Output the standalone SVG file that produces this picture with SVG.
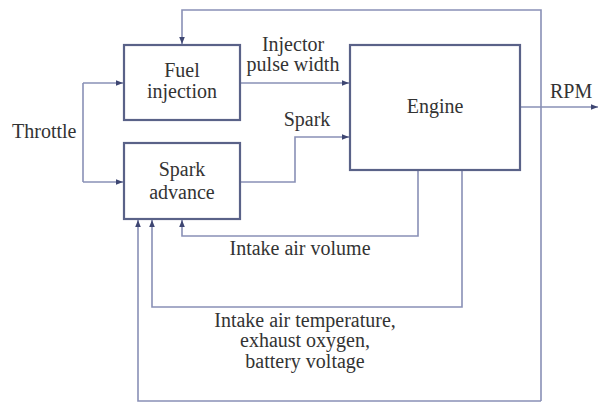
<svg xmlns="http://www.w3.org/2000/svg" width="599" height="403" viewBox="0 0 599 403">
<style>
.box{fill:#fff;stroke:#5a6288;stroke-width:2.2}
.ln{fill:none;stroke:#8990b6;stroke-width:1.6}
.t{font-family:"Liberation Serif","Times New Roman",serif;font-size:20px;fill:#333}
.c{text-anchor:middle}
</style>
<defs>
<marker id="ah" viewBox="0 0 10 10" refX="10" refY="5" markerWidth="4.5" markerHeight="4.5" orient="auto" markerUnits="strokeWidth">
<path d="M0,1 L10,5 L0,9 z" fill="#3e4672"/>
</marker>
</defs>
<rect width="599" height="403" fill="#fff"/>
<g id="connectors">
<path class="ln" d="M541,401 V10 H182 V44" marker-end="url(#ah)"/>
<path class="ln" d="M541,401 H138 V220" marker-end="url(#ah)"/>
<path class="ln" d="M83,83 V182"/>
<path class="ln" d="M83,83 H123" marker-end="url(#ah)"/>
<path class="ln" d="M83,182 H123" marker-end="url(#ah)"/>
<path class="ln" d="M240,83 H349" marker-end="url(#ah)"/>
<path class="ln" d="M240,182 H295 V137 H349" marker-end="url(#ah)"/>
<path class="ln" d="M520,107 H598" marker-end="url(#ah)"/>
<path class="ln" d="M418,170 V236 H182 V220" marker-end="url(#ah)"/>
<path class="ln" d="M462,170 V307 H152 V220" marker-end="url(#ah)"/>
</g>
<g id="fuel-injection">
<rect class="box" x="124" y="45" width="116" height="75"/>
<text class="t c" x="182" y="77">Fuel</text>
<text class="t c" x="182" y="98">injection</text>
</g>
<g id="spark-advance">
<rect class="box" x="124" y="143" width="116" height="76"/>
<text class="t c" x="182" y="176">Spark</text>
<text class="t c" x="182" y="199">advance</text>
</g>
<g id="engine">
<rect class="box" x="350" y="45" width="170" height="125"/>
<text class="t c" x="435" y="113">Engine</text>
</g>
<g id="labels">
<text class="t" x="12" y="138">Throttle</text>
<text class="t c" x="293" y="51">Injector</text>
<text class="t c" x="293" y="71">pulse width</text>
<text class="t c" x="307" y="126">Spark</text>
<text class="t" x="550" y="98">RPM</text>
<text class="t c" x="300" y="255">Intake air volume</text>
<text class="t c" x="305" y="327">Intake air temperature,</text>
<text class="t c" x="305" y="347">exhaust oxygen,</text>
<text class="t c" x="305" y="368">battery voltage</text>
</g>
</svg>
